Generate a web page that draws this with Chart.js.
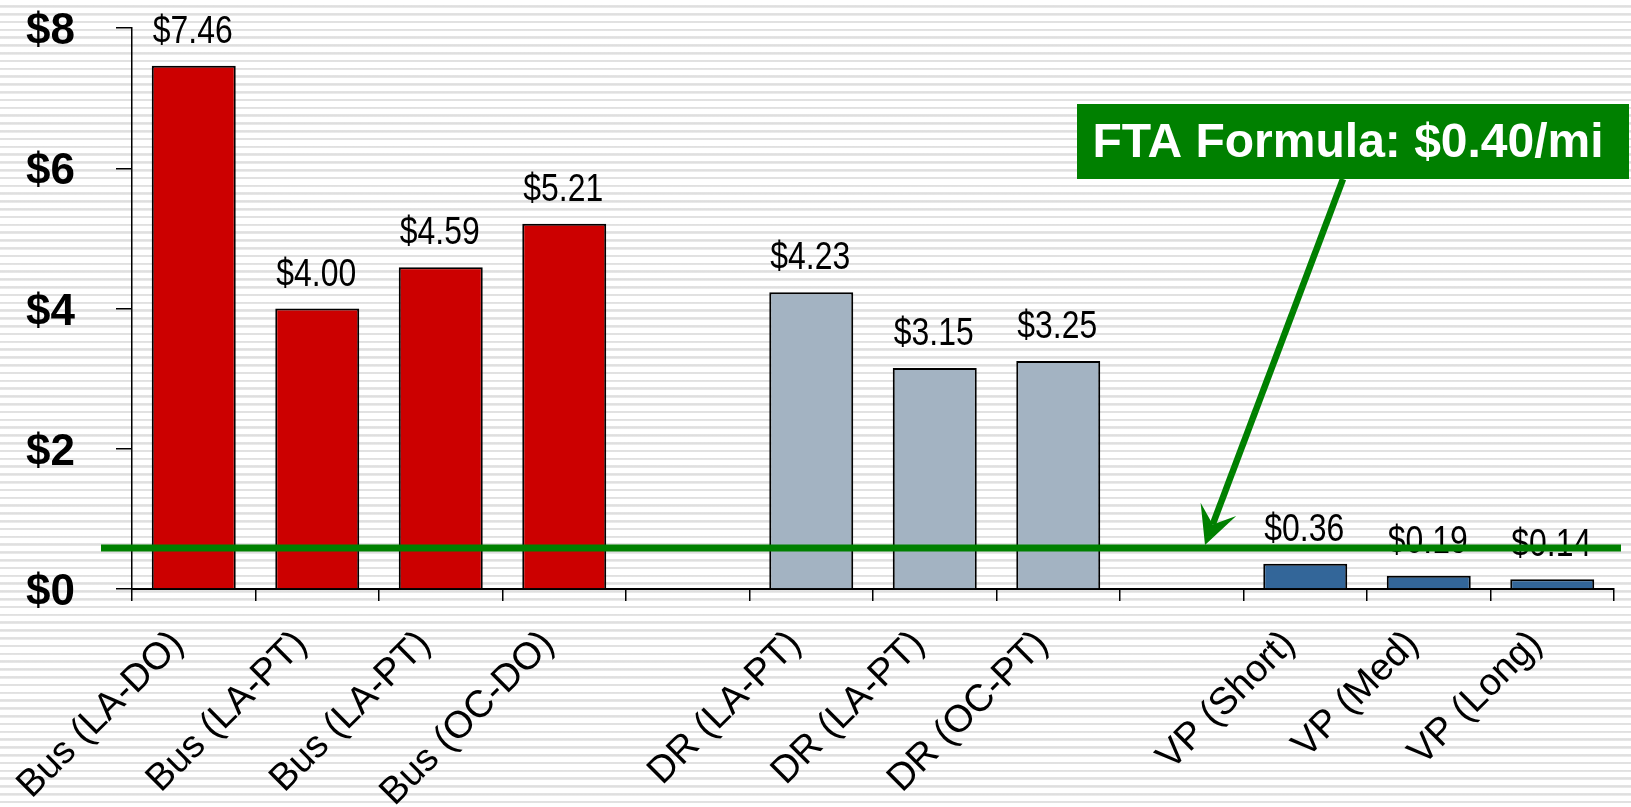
<!DOCTYPE html>
<html>
<head>
<meta charset="utf-8">
<script src="https://cdn.jsdelivr.net/npm/chart.js@4"></script>
<style>
    html, body {
        margin: 0;
        padding: 0;
    }
    body {
        width: 1631px;
        height: 807px;
        overflow: hidden;
        background: repeating-linear-gradient(to bottom, #ffffff 0px, #ffffff 5.2px, #e4e4e4 5.2px, #dedede 6.6px, #ececec 7.8px);
    }
    .chart-wrap {
        position: relative;
        width: 1631px;
        height: 807px;
    }
</style>
</head>
<body>
<div class="chart-wrap">
    <canvas id="costChart"></canvas>
</div>
<script>
// ================= Data =================
const categories = ['Bus (LA-DO)', 'Bus (LA-PT)', 'Bus (LA-PT)', 'Bus (OC-DO)', '',
    'DR (LA-PT)', 'DR (LA-PT)', 'DR (OC-PT)', '',
    'VP (Short)', 'VP (Med)', 'VP (Long)'];
const busCost = [7.46, 4.00, 4.59, 5.21, null, null, null, null, null, null, null, null];
const drCost = [null, null, null, null, null, 4.23, 3.15, 3.25, null, null, null, null];
const vpCost = [null, null, null, null, null, null, null, null, null, 0.36, 0.19, 0.14];
const yTicks = [0, 2, 4, 6, 8];
const ftaLevel = 0.585;
const ftaText = 'FTA Formula: $0.40/mi';

// ================= Plugins =================
// value labels over each bar (narrowed Liberation Sans)
const valueLabels = {
    id: 'valueLabels',
    afterDatasetsDraw(chart) {
        const ctx = chart.ctx;
        chart.data.datasets.forEach((ds, i) => {
            chart.getDatasetMeta(i).data.forEach((bar, j) => {
                const v = ds.data[j];
                if (v == null) return;
                ctx.save();
                ctx.translate(bar.x - 1, bar.y - 23);
                ctx.scale(0.84, 1);
                ctx.font = '38px "Liberation Sans", Arial, sans-serif';
                ctx.fillStyle = '#000';
                ctx.textAlign = 'center';
                ctx.textBaseline = 'alphabetic';
                ctx.fillText('$' + v.toFixed(2), 0, 0);
                ctx.restore();
            });
        });
    }
};

// green FTA line, arrow and callout box
const ftaCallout = {
    id: 'ftaCallout',
    afterDraw(chart) {
        const ctx = chart.ctx;
        const area = chart.chartArea;
        const y = chart.scales.y.getPixelForValue(ftaLevel);
        const green = '#008000';
        ctx.save();

        // horizontal line
        ctx.strokeStyle = green;
        ctx.lineWidth = 7;
        ctx.beginPath();
        ctx.moveTo(area.left - 31, y);
        ctx.lineTo(area.right + 7, y);
        ctx.stroke();

        // callout box
        const box = { x: 1077, y: 104, w: 552, h: 75 };
        ctx.fillStyle = green;
        ctx.fillRect(box.x, box.y, box.w, box.h);
        ctx.fillStyle = '#fff';
        ctx.font = 'bold 48px "Liberation Sans", Arial, sans-serif';
        ctx.textAlign = 'center';
        ctx.textBaseline = 'middle';
        ctx.fillText(ftaText, box.x + box.w / 2 - 5, box.y + box.h / 2 + 2);

        // arrow from box to line
        const sx = 1343, sy = box.y + box.h;
        const tx = 1205, ty = y - 3;
        const dx = tx - sx, dy = ty - sy;
        const len = Math.hypot(dx, dy);
        const ux = dx / len, uy = dy / len;
        const nx = -uy, ny = ux;
        const notchX = tx - ux * 22, notchY = ty - uy * 22;
        ctx.strokeStyle = green;
        ctx.lineWidth = 6.5;
        ctx.beginPath();
        ctx.moveTo(sx, sy);
        ctx.lineTo(notchX, notchY);
        ctx.stroke();
        ctx.fillStyle = green;
        ctx.beginPath();
        ctx.moveTo(tx, ty);
        ctx.lineTo(tx - ux * 38 + nx * 19, ty - uy * 38 + ny * 19);
        ctx.lineTo(notchX, notchY);
        ctx.lineTo(tx - ux * 38 - nx * 19, ty - uy * 38 - ny * 19);
        ctx.closePath();
        ctx.fill();

        ctx.restore();
    }
};

// ================= Chart =================
const barStyle = {
    borderColor: '#000',
    borderWidth: 2,
    grouped: false,
    categoryPercentage: 1,
    barPercentage: 0.68
};

new Chart(document.getElementById('costChart'), {
    type: 'bar',
    data: {
        labels: categories,
        datasets: [
            { label: 'Bus', data: busCost, backgroundColor: '#cc0000', ...barStyle },
            { label: 'DR', data: drCost, backgroundColor: '#a3b3c2', ...barStyle },
            { label: 'VP', data: vpCost, backgroundColor: '#336699', ...barStyle }
        ]
    },
    options: {
        responsive: true,
        maintainAspectRatio: false,
        animation: false,
        layout: { padding: { top: 28, right: 17, left: 0, bottom: 0 } },
        plugins: {
            legend: { display: false },
            tooltip: { enabled: false }
        },
        scales: {
            x: {
                grid: {
                    drawOnChartArea: false,
                    drawTicks: true,
                    tickLength: 12,
                    color: '#000',
                    lineWidth: 1.5
                },
                border: { display: true, color: '#000', width: 2 },
                ticks: {
                    color: '#000',
                    autoSkip: false,
                    minRotation: 45,
                    maxRotation: 45,
                    padding: 21,
                    labelOffset: -16,
                    font: { family: '"Liberation Sans", Arial, sans-serif', size: 38 }
                },
                afterFit(scale) {
                    scale.height = 218;
                    scale.paddingLeft = 0;
                    scale.paddingRight = 0;
                }
            },
            y: {
                min: 0,
                max: 8,
                afterBuildTicks(scale) { scale.ticks = yTicks.map(v => ({ value: v })); },
                grid: {
                    drawOnChartArea: false,
                    drawTicks: true,
                    tickLength: 16,
                    color: '#000',
                    lineWidth: 1.5
                },
                border: { display: true, color: '#000', width: 1.5 },
                ticks: {
                    color: '#000',
                    padding: 41,
                    labelOffset: 4,
                    callback: v => '$' + v,
                    font: { family: '"Liberation Sans", Arial, sans-serif', size: 44, weight: 'bold' }
                },
                afterFit(scale) {
                    scale.width = 132;
                    scale.paddingTop = 0;
                    scale.paddingBottom = 0;
                }
            }
        }
    },
    plugins: [valueLabels, ftaCallout]
});
</script>
</body>
</html>
